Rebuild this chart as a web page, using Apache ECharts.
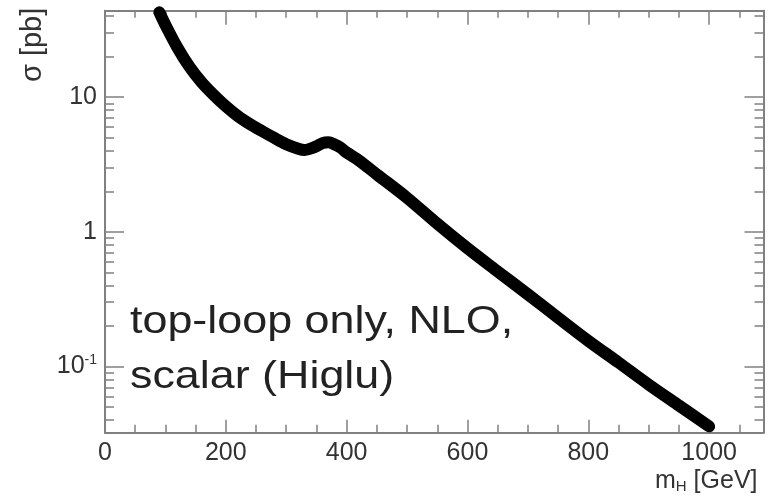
<!DOCTYPE html>
<html>
<head>
<meta charset="utf-8">
<script src="https://cdn.jsdelivr.net/npm/echarts@6/dist/echarts.min.js"></script>
<style>
html,body{margin:0;padding:0;background:#fff;}
#chart{width:773px;height:500px;}
</style>
</head>
<body>
<div id="chart"></div>
<script>
// ---- data ----
const mH = [90,100,120,140,160,180,200,220,240,260,280,300,320,330,340,350,360,370,380,390,400,420,450,500,550,600,650,700,750,800,850,900,950,1000];
const sigma = [42.7,34.4,23.3,16.8,12.9,10.4,8.57,7.24,6.31,5.60,4.99,4.47,4.14,4.05,4.15,4.32,4.56,4.62,4.46,4.22,3.88,3.40,2.67,1.79,1.15,0.755,0.508,0.343,0.230,0.155,0.107,0.0734,0.0513,0.0359];
const xTickLabels = [0,200,400,600,800,1000];
const xMinorStep = 50;
const yTickLabels = [0.1, 1, 10];
const xRange = [0, 1090];
const yRange = [0.0322, 43.9];
const annotation = ['top-loop only, NLO,', 'scalar (Higlu)'];

// ---- derived ----
const L = Math.log10;
const seriesData = mH.map((m, i) => [m, L(sigma[i])]);
const xMinor = [];
for (let v = xRange[0]; v <= xRange[1]; v += xMinorStep) xMinor.push(v);
const yMajor = yTickLabels.map(L);
const yMinor = [];
[0.01, 0.1, 1, 10].forEach(d => { for (let k = 1; k <= 9; k++) { const v = k * d; if (v >= yRange[0] && v <= yRange[1]) yMinor.push(L(v)); } });

const FONT = 'Liberation Sans';
const LABEL_COLOR = '#333';
const AXIS_COLOR = '#808080';

function xAx(position, ticks, len, withLine, withLabels) {
  return {
    type: 'value', position: position, min: xRange[0], max: xRange[1],
    axisLine: { show: withLine, onZero: false, lineStyle: { color: AXIS_COLOR, width: 2 } },
    axisTick: { show: true, inside: true, length: len, customValues: ticks, lineStyle: { color: AXIS_COLOR, width: 1.5 } },
    axisLabel: withLabels ? { show: true, customValues: xTickLabels, margin: 8, fontFamily: FONT, fontSize: 25, color: LABEL_COLOR,
      formatter: function (v) { return String(v); } } : { show: false },
    splitLine: { show: false }
  };
}
function yAx(position, ticks, len, withLine, withLabels) {
  return {
    type: 'value', position: position, min: L(yRange[0]), max: L(yRange[1]),
    axisLine: { show: withLine, onZero: false, lineStyle: { color: AXIS_COLOR, width: 2 } },
    axisTick: { show: true, inside: true, length: len, customValues: ticks, lineStyle: { color: AXIS_COLOR, width: 1.5 } },
    axisLabel: withLabels ? {
      show: true, customValues: yMajor, margin: 8, fontFamily: FONT, fontSize: 25, color: LABEL_COLOR,
      formatter: function (v) {
        const e = Math.round(v);
        if (e === 0) return '{b|1}';
        if (e === 1) return '{b|10}';
        return '{b|10}{s|' + e + '}';
      },
      rich: {
        b: { fontFamily: FONT, fontSize: 25, color: LABEL_COLOR },
        s: { fontFamily: FONT, fontSize: 14, color: LABEL_COLOR, verticalAlign: 'top', padding: [0, 0, 12, 0] }
      }
    } : { show: false },
    splitLine: { show: false }
  };
}

const chart = echarts.init(document.getElementById('chart'), null, { renderer: 'canvas' });
chart.setOption({
  animation: false,
  backgroundColor: '#fff',
  grid: { left: 105, right: 9.5, top: 10.7, bottom: 67.3, containLabel: false, outerBoundsMode: 'none' },
  xAxis: [
    Object.assign(xAx('bottom', xTickLabels, 13, true, true), {
      name: 'm{sub|H} [GeV]', nameLocation: 'end', nameGap: -6, nameMoveOverlap: false,
      nameTextStyle: {
        fontFamily: FONT, fontSize: 25, color: LABEL_COLOR, align: 'right', verticalAlign: 'top', padding: [35, 0, 0, 0],
        rich: { sub: { fontFamily: FONT, fontSize: 15, color: LABEL_COLOR, verticalAlign: 'bottom', padding: [12, 0, 0, 0] } }
      }
    }),
    xAx('bottom', xMinor, 8, false, false),
    xAx('top', xTickLabels, 14, true, false),
    xAx('top', xMinor, 7, false, false)
  ],
  yAxis: [
    Object.assign(yAx('left', yMajor, 19, true, true), {
      name: 'σ [pb]', nameLocation: 'end', nameRotate: 90, nameGap: 3, nameMoveOverlap: false,
      nameTextStyle: { fontFamily: FONT, fontSize: 29, color: LABEL_COLOR, align: 'right', verticalAlign: 'bottom', padding: [0, 0, 58, 0] }
    }),
    yAx('left', yMinor, 9, false, false),
    yAx('right', yMajor, 19, true, false),
    yAx('right', yMinor, 9, false, false)
  ],
  series: [{
    type: 'line', xAxisIndex: 0, yAxisIndex: 0, data: seriesData,
    showSymbol: false, symbol: 'none', smooth: 0.3, clip: true,
    lineStyle: { color: '#000', width: 12, cap: 'round', join: 'round' }
  }],
  graphic: [
    { type: 'text', x: 130, y: 322, scaleX: 1.15, style: { text: annotation[0], fontFamily: FONT, fontSize: 39, fill: '#222', align: 'left', verticalAlign: 'middle' } },
    { type: 'text', x: 130, y: 377, scaleX: 1.15, style: { text: annotation[1], fontFamily: FONT, fontSize: 39, fill: '#222', align: 'left', verticalAlign: 'middle' } }
  ]
});
</script>
</body>
</html>
